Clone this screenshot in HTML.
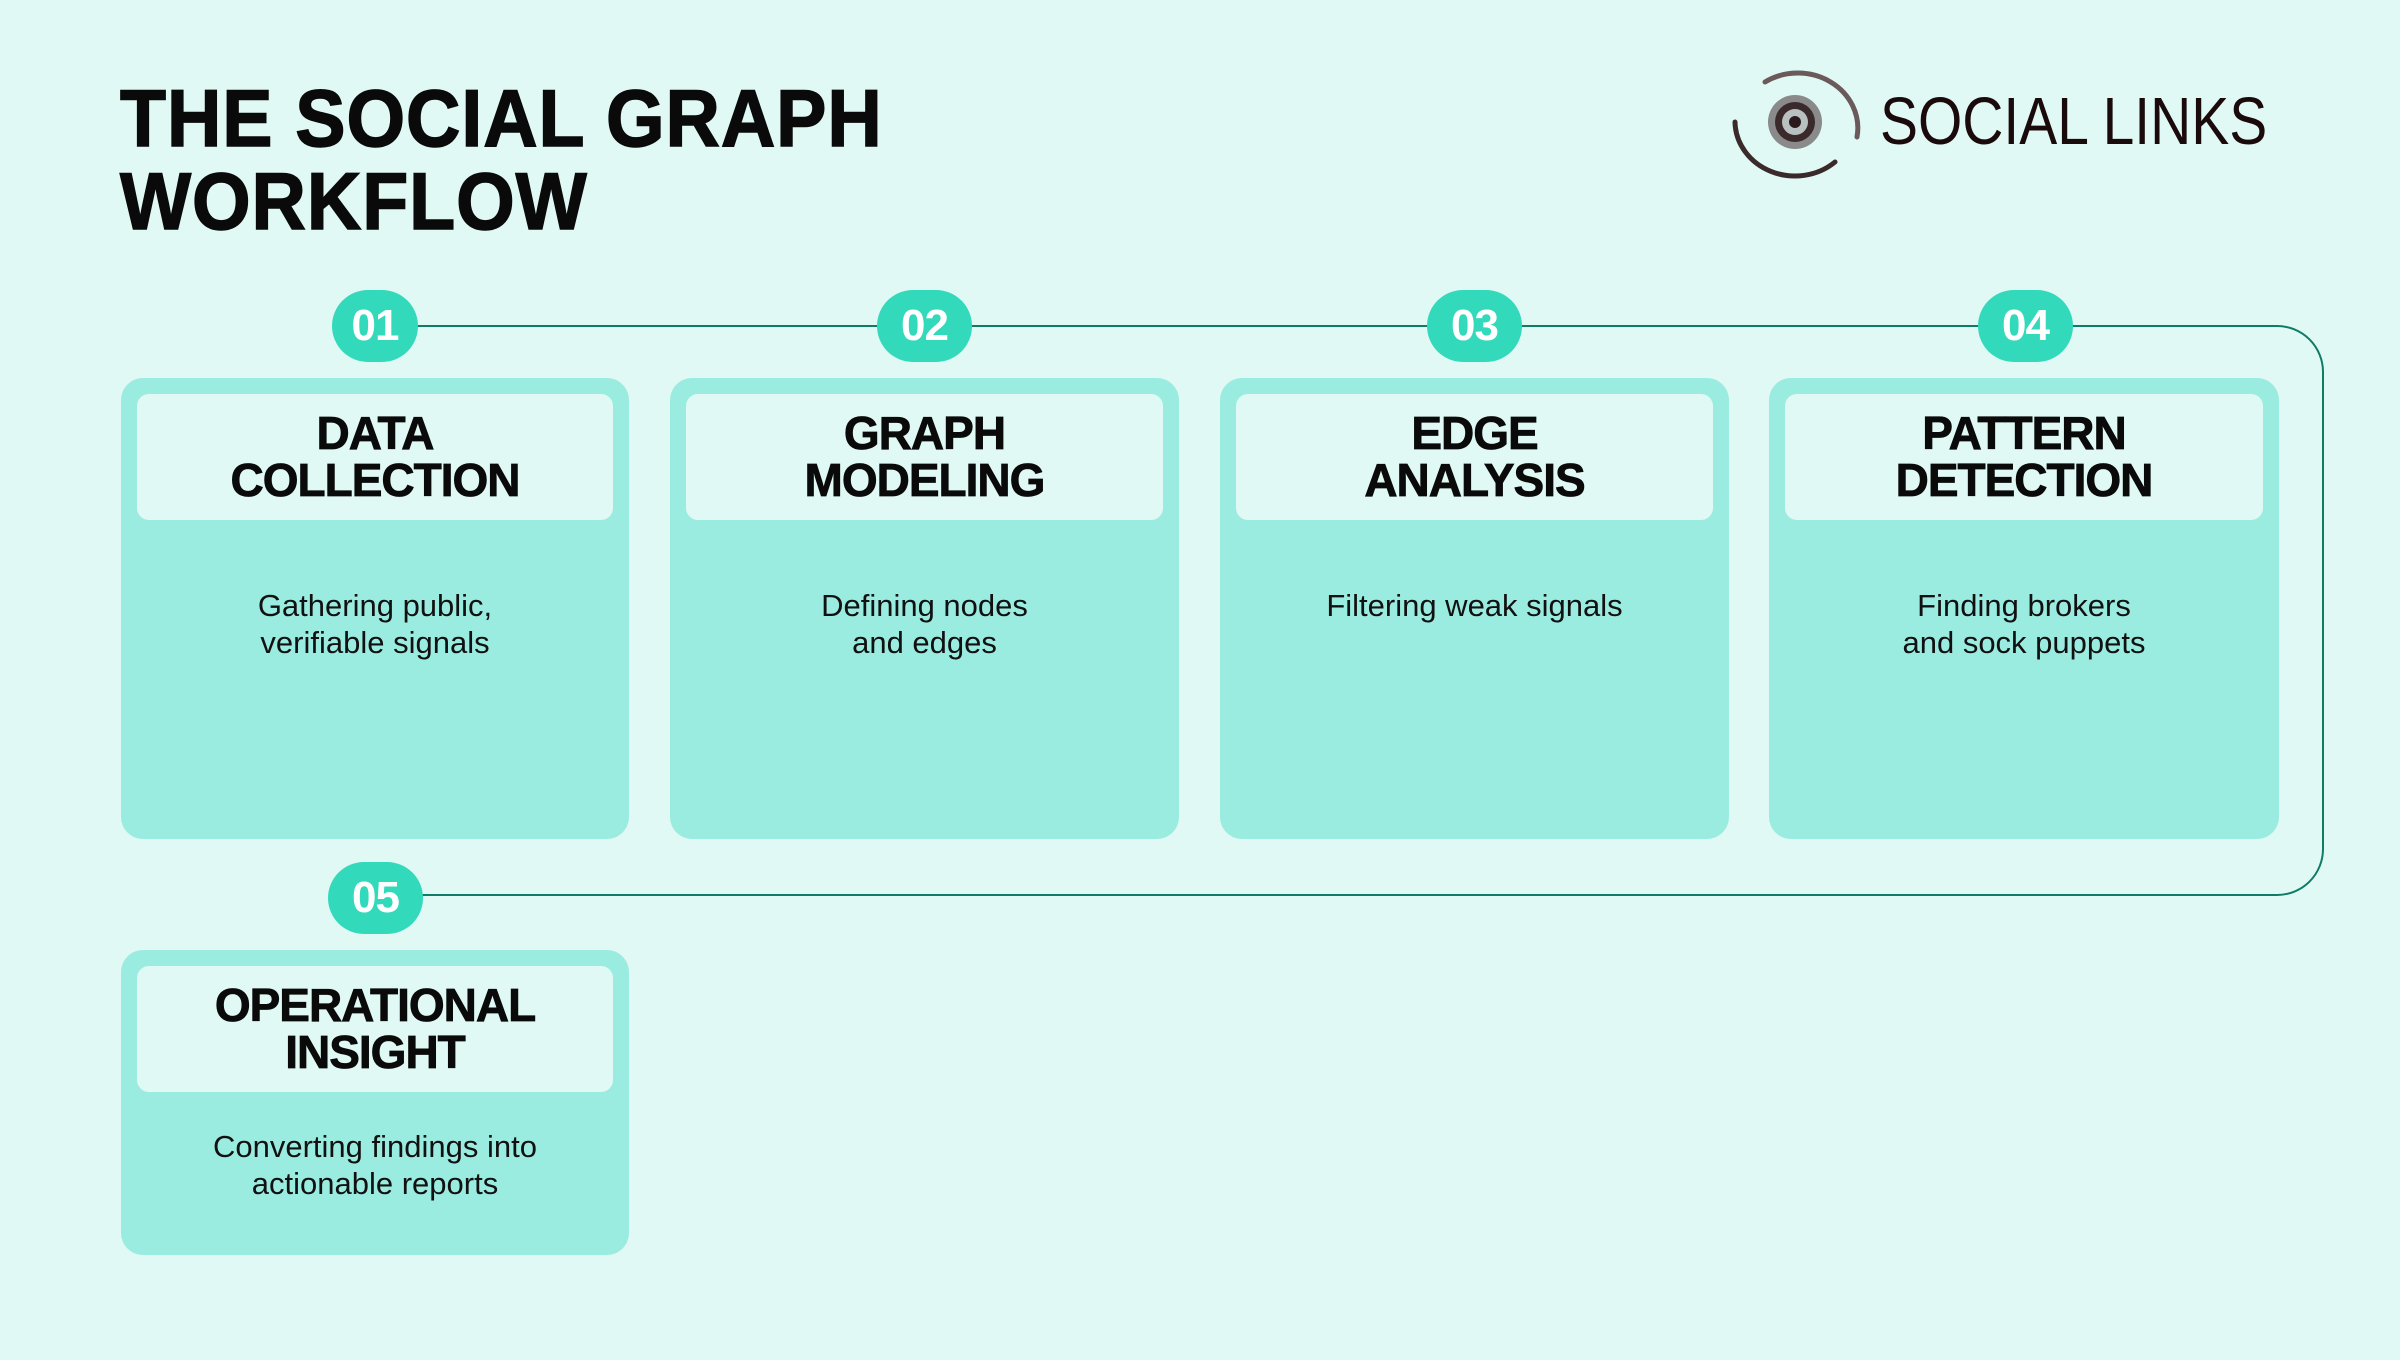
<!DOCTYPE html>
<html><head><meta charset="utf-8"><style>
*{margin:0;padding:0;box-sizing:border-box}
body{width:2400px;height:1360px;background:#e0f9f4;position:relative;overflow:hidden;font-family:"Liberation Sans",sans-serif;color:#0a0a0a}
.title{position:absolute;left:120px;font-weight:bold;font-size:81px;line-height:1;transform:scaleX(0.93);transform-origin:left top;letter-spacing:1px;-webkit-text-stroke:1.5px #0a0a0a}
.logo{position:absolute;left:1880px;top:88px;font-size:67px;line-height:1;color:#1a0a0c;transform:scaleX(0.85);transform-origin:left top;white-space:nowrap;font-weight:300}
.card{position:absolute;background:#9bece0;border-radius:22px}
.hd{position:absolute;left:16px;right:16px;top:16px;height:126px;background:#e0f9f4;border-radius:12px;display:flex;align-items:center;justify-content:center;text-align:center;font-weight:bold;font-size:46px;line-height:47px;letter-spacing:-1px;-webkit-text-stroke:0.8px #0a0a0a}
.ds{position:absolute;left:0;right:0;text-align:center;font-size:31px;line-height:37px;color:#111}
.badge{position:absolute;width:95px;height:72px;margin-left:-47px;margin-top:-36px;background:#33d9bb;border-radius:36px;color:#fff;font-weight:bold;font-size:44px;display:flex;align-items:center;justify-content:center;letter-spacing:-1px}
</style></head><body>
<svg width="2400" height="1360" style="position:absolute;left:0;top:0">
<path d="M375 326 H2277 A46 46 0 0 1 2323 372 V849 A46 46 0 0 1 2277 895 H375" fill="none" stroke="#0e7c66" stroke-width="2"/>
<g transform="translate(1795,122)">
<path d="M-60 0 A60 55 0 0 0 40 40" fill="none" stroke="#3a2a2c" stroke-width="5" stroke-linecap="round"/>
<path d="M-30 -40 A60 55 0 0 1 62 15" fill="none" stroke="#6a5a5c" stroke-width="5" stroke-linecap="round"/>
<circle cx="0" cy="0" r="27" fill="#8a8a8a"/>
<circle cx="0" cy="0" r="20" fill="#3a2a2c"/>
<circle cx="0" cy="0" r="13" fill="#b8c0c0"/>
<circle cx="0" cy="0" r="6" fill="#2a1a1c"/>
</g>
</svg>
<div class="title" style="top:79px">THE SOCIAL GRAPH</div>
<div class="title" style="top:162px">WORKFLOW</div>
<div class="logo">SOCIAL LINKS</div>

<div class="card" style="left:121px;top:378px;width:508px;height:461px"><div class="hd">DATA<br>COLLECTION</div><div class="ds" style="top:209px">Gathering public,<br>verifiable signals</div></div>
<div class="card" style="left:670px;top:378px;width:509px;height:461px"><div class="hd">GRAPH<br>MODELING</div><div class="ds" style="top:209px">Defining nodes<br>and edges</div></div>
<div class="card" style="left:1220px;top:378px;width:509px;height:461px"><div class="hd">EDGE<br>ANALYSIS</div><div class="ds" style="top:209px">Filtering weak signals</div></div>
<div class="card" style="left:1769px;top:378px;width:510px;height:461px"><div class="hd">PATTERN<br>DETECTION</div><div class="ds" style="top:209px">Finding brokers<br>and sock puppets</div></div>
<div class="card" style="left:121px;top:950px;width:508px;height:305px"><div class="hd">OPERATIONAL<br>INSIGHT</div><div class="ds" style="top:178px">Converting findings into<br>actionable reports</div></div>

<div class="badge" style="left:375px;top:326px;width:86px;margin-left:-43px">01</div>
<div class="badge" style="left:924px;top:326px">02</div>
<div class="badge" style="left:1474px;top:326px">03</div>
<div class="badge" style="left:2025px;top:326px">04</div>
<div class="badge" style="left:375px;top:898px">05</div>
</body></html>
